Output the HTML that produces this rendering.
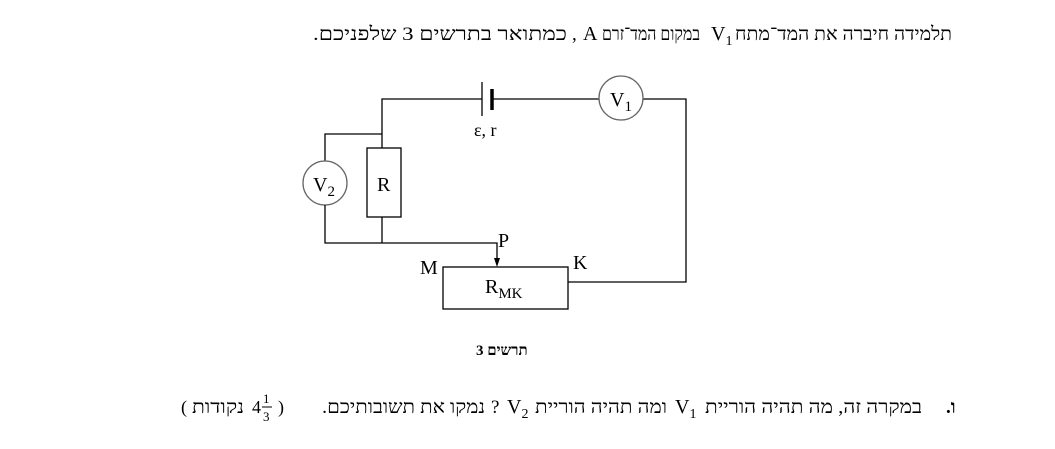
<!DOCTYPE html>
<html><head><meta charset="utf-8"><style>
html,body{margin:0;padding:0;background:#fff;width:1055px;height:449px;overflow:hidden}
svg{display:block}
.s{font-family:"Liberation Serif",serif;fill:#000}
.h{font-family:"Liberation Serif","DejaVu Sans",serif;fill:#000;font-size:19px}
</style></head><body>
<svg width="1055" height="449" viewBox="0 0 1055 449" xmlns="http://www.w3.org/2000/svg">
<g stroke="#000" stroke-width="1.3" fill="none">
<polyline points="482,99 382,99 382,148"/>
<line x1="492" y1="99" x2="599" y2="99"/>
<polyline points="643,99 686,99 686,282 568,282"/>
<line x1="482" y1="82" x2="482" y2="116"/>
<line x1="492" y1="89" x2="492" y2="110" stroke-width="3.5"/>
<circle cx="621" cy="98" r="22" stroke="#666"/>
<polyline points="382,134 325,134 325,161"/>
<circle cx="325" cy="183" r="22" stroke="#666"/>
<polyline points="325,205 325,243 497,243 497,260"/>
<line x1="382" y1="217" x2="382" y2="243"/>
<rect x="367" y="148" width="34" height="69"/>
<rect x="443" y="267" width="125" height="42"/>
</g>
<polygon points="494,258 500,258 497,267" fill="#000"/>
<text class="s" x="610" y="106" font-size="20">V<tspan font-size="15" dy="5">1</tspan></text>
<text class="s" x="313" y="191" font-size="20">V<tspan font-size="15" dy="5">2</tspan></text>
<text class="s" x="377" y="191" font-size="20">R</text>
<text class="s" x="474" y="136" font-size="18" fill="#333">ε, r</text>
<text class="s" x="498" y="247" font-size="20">P</text>
<text class="s" x="420" y="274" font-size="20">M</text>
<text class="s" x="573" y="269" font-size="20">K</text>
<text class="s" x="485" y="293" font-size="20">R<tspan font-size="15" dy="5">MK</tspan></text>

<text class="h" x="313" y="40" textLength="254" lengthAdjust="spacingAndGlyphs">.כמתואר בתרשים 3 שלפניכם</text>
<text class="s" x="572" y="40" font-size="19">,</text>
<text class="s" x="583" y="40" font-size="20">A</text>
<text class="h" x="602" y="40" textLength="98" lengthAdjust="spacingAndGlyphs">במקום המד־זרם</text>
<text class="s" x="711" y="40" font-size="20">V<tspan font-size="14" dy="5">1</tspan></text>
<text class="h" x="735" y="40" textLength="217" lengthAdjust="spacingAndGlyphs">תלמידה חיברה את המד־מתח</text>

<text class="h" x="476" y="355" font-weight="bold" style="font-size:15px">3 תרשים</text>

<text class="h" x="946" y="413" font-weight="bold">.ו</text>
<text class="h" x="705" y="413" textLength="217" lengthAdjust="spacingAndGlyphs">במקרה זה, מה תהיה הוריית</text>
<text class="s" x="675" y="413" font-size="20">V<tspan font-size="14" dy="5">1</tspan></text>
<text class="h" x="535" y="413" textLength="132" lengthAdjust="spacingAndGlyphs">ומה תהיה הוריית</text>
<text class="s" x="507" y="413" font-size="20">V<tspan font-size="14" dy="5">2</tspan></text>
<text class="h" x="491" y="413">?</text>
<text class="h" x="322" y="413" textLength="163" lengthAdjust="spacingAndGlyphs">.נמקו את תשובותיכם</text>

<text class="s" x="181" y="413" font-size="18">(</text>
<text class="h" x="192" y="413" textLength="52" lengthAdjust="spacingAndGlyphs">נקודות</text>
<text class="s" x="252" y="413" font-size="18">4</text>
<text class="s" x="263" y="403" font-size="13">1</text>
<line x1="262" y1="407" x2="272" y2="407" stroke="#000" stroke-width="1"/>
<text class="s" x="263" y="421" font-size="13">3</text>
<text class="s" x="278" y="413" font-size="18">)</text>
</svg>
</body></html>
